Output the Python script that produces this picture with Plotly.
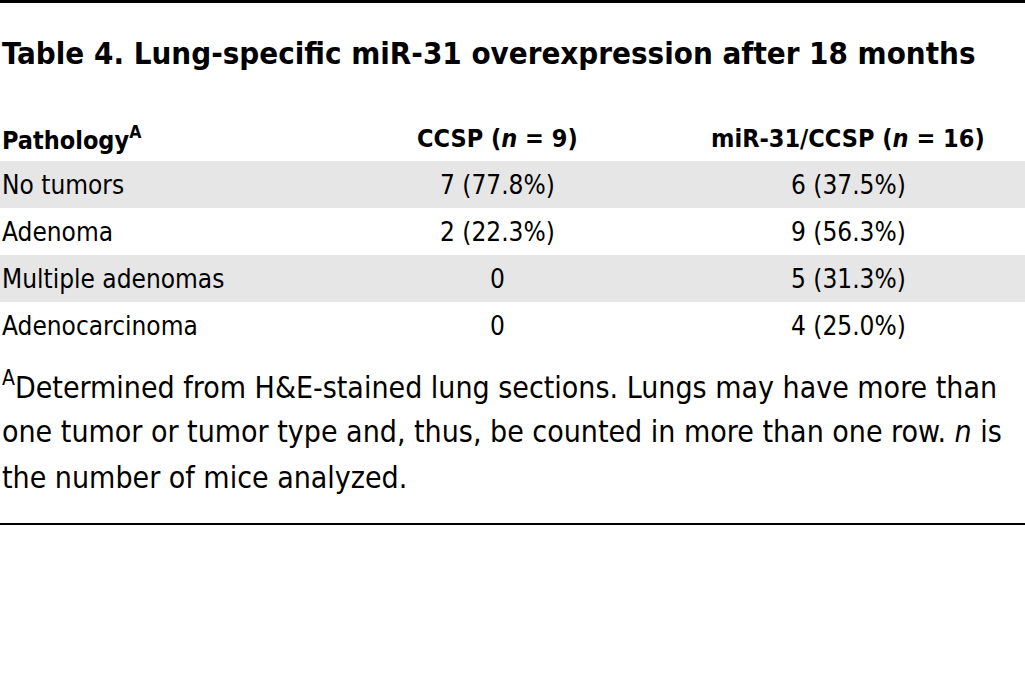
import plotly.graph_objects as go

# Table content
title = "Table 4. Lung-specific miR-31 overexpression after 18 months"
col_headers = ["Pathology<sup>A</sup>", "CCSP (<i>n</i> = 9)", "miR-31/CCSP (<i>n</i> = 16)"]
pathology = ["No tumors", "Adenoma", "Multiple adenomas", "Adenocarcinoma"]
ccsp = ["7 (77.8%)", "2 (22.3%)", "0", "0"]
mir31_ccsp = ["6 (37.5%)", "9 (56.3%)", "5 (31.3%)", "4 (25.0%)"]
footnote = [
    "<sup>A</sup>Determined from H&amp;E-stained lung sections. Lungs may have more than",
    "one tumor or tumor type and, thus, be counted in more than one row. <i>n</i> is",
    "the number of mice analyzed.",
]

FONT = "DejaVu Sans Condensed, Liberation Sans Narrow, DejaVu Sans, sans-serif"
W, H = 1025, 699
col_x = [0, 497, 848]
col_anchor = ["left", "center", "center"]
header_y = 138
row_top = 161
row_h = 47
band_color = "#e6e6e6"

fig = go.Figure()

shapes = [
    # top and bottom rules
    dict(type="line", x0=0, x1=W, y0=1.5, y1=1.5, line=dict(color="black", width=3)),
    dict(type="line", x0=0, x1=W, y0=524, y1=524, line=dict(color="black", width=2)),
]
for i in range(len(pathology)):
    if i % 2 == 0:
        shapes.append(dict(
            type="rect", x0=0, x1=W, y0=row_top + i * row_h, y1=row_top + (i + 1) * row_h,
            fillcolor=band_color, line=dict(width=0), layer="below",
        ))

annotations = [dict(
    x=0, y=53, text="<b>" + title + "</b>", xanchor="left", yanchor="middle",
    showarrow=False, font=dict(family=FONT, size=31, color="black"),
)]

for x, anchor, text in zip(col_x, col_anchor, col_headers):
    annotations.append(dict(
        x=x, y=header_y, text="<b>" + text + "</b>", xanchor=anchor, yanchor="middle",
        showarrow=False, font=dict(family=FONT, size=25, color="black"),
    ))

for i, row in enumerate(zip(pathology, ccsp, mir31_ccsp)):
    yc = row_top + i * row_h + row_h / 2
    for x, anchor, text in zip(col_x, col_anchor, row):
        annotations.append(dict(
            x=x, y=yc, text=text, xanchor=anchor, yanchor="middle",
            showarrow=False, font=dict(family=FONT, size=26, color="black"),
        ))

for i, line in enumerate(footnote):
    annotations.append(dict(
        x=0, y=385 + i * 46, text=line, xanchor="left", yanchor="middle",
        showarrow=False, font=dict(family=FONT, size=30, color="black"),
    ))

fig.update_layout(
    width=W, height=H,
    margin=dict(l=0, r=0, t=0, b=0),
    paper_bgcolor="white", plot_bgcolor="white",
    xaxis=dict(range=[0, W], visible=False, fixedrange=True),
    yaxis=dict(range=[H, 0], visible=False, fixedrange=True),
    shapes=shapes,
    annotations=annotations,
    showlegend=False,
)

fig.write_html(
    "out.html",
    config={"displayModeBar": False},
    post_script="document.body.style.margin = '0';",
)
